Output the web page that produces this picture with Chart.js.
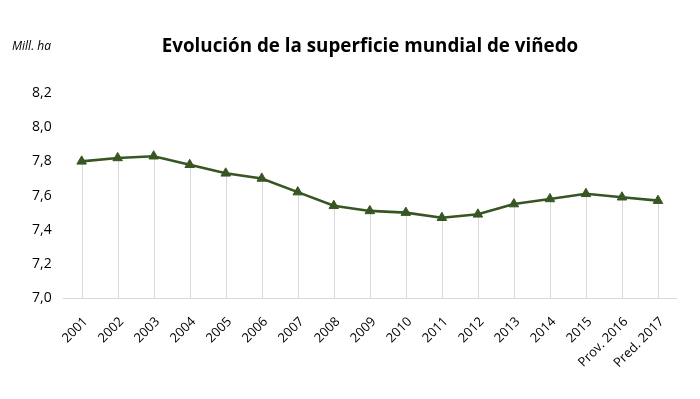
<!DOCTYPE html>
<html>
<head>
<meta charset="utf-8">
<script src="https://cdn.jsdelivr.net/npm/chart.js@4.4.0/dist/chart.umd.min.js"></script>
<style>
  body { margin: 0; background: #fff; }
  #wrap { width: 700px; height: 399px; }
</style>
</head>
<body>
<div id="wrap"><canvas id="myChart" width="700" height="399"></canvas></div>
<script>
// data
var anios = ['2001', '2002', '2003', '2004', '2005', '2006', '2007', '2008', '2009',
             '2010', '2011', '2012', '2013', '2014', '2015', 'Prov. 2016', 'Pred. 2017'];
var superficie = [7.80, 7.82, 7.83, 7.78, 7.73, 7.70, 7.62, 7.54, 7.51,
                  7.50, 7.47, 7.49, 7.55, 7.58, 7.61, 7.59, 7.57];
var titulo = 'Evolución de la superficie mundial de viñedo';
var unidad = 'Mill. ha';

var verde = '#375623';

// lineas verticales desde cada punto hasta la base (drop lines)
var dropLines = {
  id: 'dropLines',
  beforeDatasetsDraw: function(chart) {
    var ctx = chart.ctx;
    var meta = chart.getDatasetMeta(0);
    var base = chart.scales.y.getPixelForValue(7);
    ctx.save();
    ctx.strokeStyle = '#d9d9d9';
    ctx.lineWidth = 1;
    for (var i = 0; i < meta.data.length; i++) {
      var p = meta.data[i];
      ctx.beginPath();
      ctx.moveTo(Math.round(p.x) + 0.5, p.y);
      ctx.lineTo(Math.round(p.x) + 0.5, base);
      ctx.stroke();
    }
    ctx.restore();
  },
  afterDraw: function(chart) {
    var ctx = chart.ctx;
    ctx.save();
    ctx.fillStyle = '#000';
    ctx.font = 'italic 12px "Open Sans"';
    ctx.textBaseline = 'middle';
    ctx.fillText(unidad, 12, 47);
    ctx.font = 'bold 18.8px "Open Sans"';
    ctx.textAlign = 'center';
    ctx.fillText(titulo, 370, 47);
    ctx.restore();
  }
};

var ctx = document.getElementById('myChart').getContext('2d');
var chart = new Chart(ctx, {
  type: 'line',
  data: {
    labels: anios,
    datasets: [{
      data: superficie,
      borderColor: verde,
      backgroundColor: verde,
      borderWidth: 2.6,
      pointStyle: 'triangle',
      pointRadius: 5.5,
      pointBorderWidth: 1,
      tension: 0
    }]
  },
  options: {
    responsive: false,
    animation: false,
    layout: { padding: { top: 93, right: 24, left: 20, bottom: 12 } },
    plugins: {
      legend: { display: false },
      tooltip: { enabled: false }
    },
    scales: {
      x: {
        offset: true,
        grid: { display: false, drawTicks: false },
        border: { display: true, color: '#d9d9d9' },
        afterFit: function(scale) { scale.paddingLeft = 0; scale.paddingRight = 0; },
        ticks: {
          color: '#000',
          font: { family: 'Open Sans', size: 13 },
          minRotation: 45,
          maxRotation: 45,
          padding: 16,
          labelOffset: 4
        }
      },
      y: {
        min: 7,
        max: 8.2,
        grid: { display: false, drawTicks: false },
        border: { display: false },
        ticks: {
          stepSize: 0.2,
          color: '#000',
          padding: 12,
          font: { family: 'Open Sans', size: 14 },
          callback: function(v) { return v.toFixed(1).replace('.', ','); }
        }
      }
    }
  },
  plugins: [dropLines]
});
</script>
</body>
</html>
